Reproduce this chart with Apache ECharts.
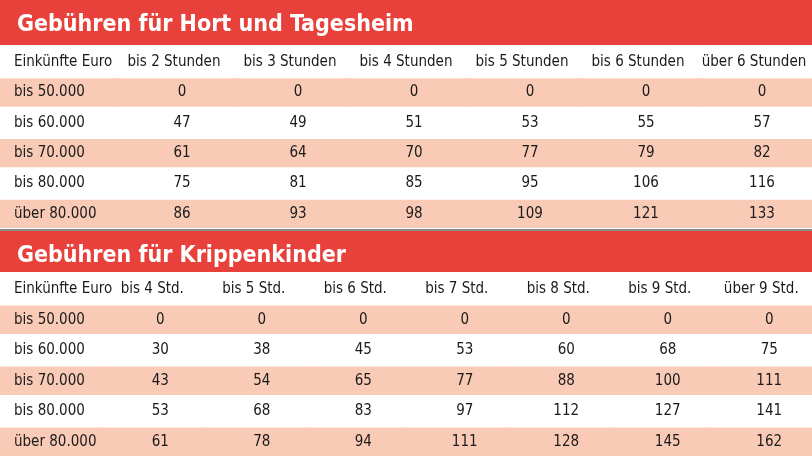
<!DOCTYPE html>
<html><head><meta charset="utf-8">
<script src="https://cdn.jsdelivr.net/npm/echarts@6/dist/echarts.min.js"></script>
<style>html,body{margin:0;padding:0;background:#fff}#c{width:812px;height:457px}</style>
</head><body><div id="c"></div>
<script>
// table 1: Hort und Tagesheim
const hortCols = ['Einkünfte Euro', 'bis 2 Stunden', 'bis 3 Stunden', 'bis 4 Stunden', 'bis 5 Stunden', 'bis 6 Stunden', 'über 6 Stunden'];
const incomeRows = ['bis 50.000', 'bis 60.000', 'bis 70.000', 'bis 80.000', 'über 80.000'];
const hortFees = [
    [0, 0, 0, 0, 0, 0],
    [47, 49, 51, 53, 55, 57],
    [61, 64, 70, 77, 79, 82],
    [75, 81, 85, 95, 106, 116],
    [86, 93, 98, 109, 121, 133]
];
// table 2: Krippenkinder
const krippeCols = ['Einkünfte Euro', 'bis 4 Std.', 'bis 5 Std.', 'bis 6 Std.', 'bis 7 Std.', 'bis 8 Std.', 'bis 9 Std.', 'über 9 Std.'];
const krippeFees = [
    [0, 0, 0, 0, 0, 0, 0],
    [30, 38, 45, 53, 60, 68, 75],
    [43, 54, 65, 77, 88, 100, 111],
    [53, 68, 83, 97, 112, 127, 141],
    [61, 78, 94, 111, 128, 145, 162]
];

const RED = '#e8403a', PINK = '#f9cbb6';
const FONT = '"DejaVu Sans Condensed", "Liberation Sans Narrow", sans-serif';

const buildCells = (cols, fees) => {
    const cells = [];
    cols.forEach((c, i) => cells.push([i, 0, c]));
    incomeRows.forEach((r, j) => {
        cells.push([0, j + 1, r]);
        fees[j].forEach((v, i) => cells.push([i + 1, j + 1, String(v)]));
    });
    return cells;
};

const renderCell = (params, api) => {
    const col = api.value(0), row = api.value(1);
    const p = api.coord([col, row]);
    const s = api.size([1, 1]);
    const left = p[0] - s[0] / 2, top = p[1] - s[1] / 2;
    const children = [];
    if (row % 2 === 1) {
        children.push({ type: 'rect', shape: { x: left, y: top + 1, width: s[0] + 1, height: s[1] - 2 }, style: { fill: PINK } });
    }
    const isLabel = col === 0;
    children.push({
        type: 'text',
        style: {
            text: api.value(2),
            x: isLabel ? left + 14 : (row === 0 ? p[0] : p[0] + 8),
            y: p[1],
            textAlign: isLabel ? 'left' : 'center',
            textVerticalAlign: 'middle',
            fill: '#1a1a1a',
            font: '15px ' + FONT
        }
    });
    return { type: 'group', children };
};

const axisPair = (idx, cols) => ({
    x: { type: 'category', gridIndex: idx, data: cols.map((_, i) => i), show: false },
    y: { type: 'category', gridIndex: idx, data: [0, 1, 2, 3, 4, 5], inverse: true, show: false }
});
const a1 = axisPair(0, hortCols), a2 = axisPair(1, krippeCols);

const chart = echarts.init(document.getElementById('c'));
chart.setOption({
    animation: false,
    title: [
        { text: 'Gebühren für Hort und Tagesheim', left: 12, top: 9, textStyle: { color: '#fff', fontSize: 23, fontWeight: 'bold', fontFamily: FONT } },
        { text: 'Gebühren für Krippenkinder', left: 12, top: 240, textStyle: { color: '#fff', fontSize: 23, fontWeight: 'bold', fontFamily: FONT } }
    ],
    graphic: [
        { type: 'rect', z: -1, shape: { x: 0, y: 0, width: 812, height: 45 }, style: { fill: RED } },
        { type: 'rect', z: -1, shape: { x: 0, y: 229, width: 812, height: 2 }, style: { fill: '#8a8a8a' } },
        { type: 'rect', z: -1, shape: { x: 0, y: 231, width: 812, height: 41 }, style: { fill: RED } }
    ],
    grid: [
        { left: 0, right: 0, top: 47, height: 182 },
        { left: 0, right: 0, top: 274, height: 183 }
    ],
    xAxis: [a1.x, a2.x],
    yAxis: [a1.y, a2.y],
    series: [
        { type: 'custom', xAxisIndex: 0, yAxisIndex: 0, data: buildCells(hortCols, hortFees), renderItem: renderCell },
        { type: 'custom', xAxisIndex: 1, yAxisIndex: 1, data: buildCells(krippeCols, krippeFees), renderItem: renderCell }
    ]
});
</script></body></html>
